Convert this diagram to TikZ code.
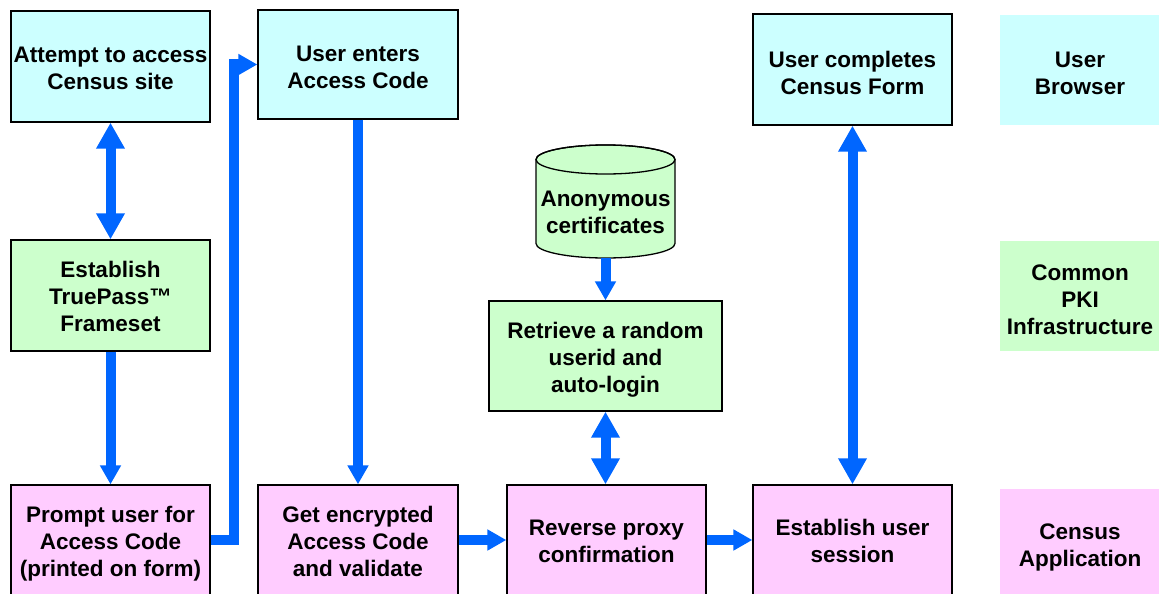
\documentclass[tikz,border=0pt]{standalone}
\usepackage{fontspec}
\setmainfont{Liberation Sans}
\usetikzlibrary{arrows.meta}
\definecolor{bcyan}{HTML}{CCFFFF}
\definecolor{bgreen}{HTML}{CCFFCC}
\definecolor{bpink}{HTML}{FFCCFF}
\definecolor{arrowblue}{HTML}{0066FF}
\newcommand\tdownA{\rule{0pt}{18.4pt}}
\newcommand\tdownB{\rule{0pt}{20.4pt}}
\newcommand\tdownC{\rule{0pt}{22.4pt}}
\begin{document}
\begin{tikzpicture}[x=1pt,y=-1pt,
  txt/.style={inner sep=0pt, align=center, text depth=0pt, font=\fontsize{22.5}{27}\selectfont\bfseries},
  box/.style={txt, draw=black, line width=1.3pt},
  cbox/.style={box, fill=bcyan, minimum width=199pt, minimum height=110pt},
  gbox/.style={box, fill=bgreen},
  pbox/.style={box, fill=bpink, minimum width=199pt, minimum height=112pt},
  lgd/.style={txt, minimum width=160pt, minimum height=110pt},
  sarrow/.style={draw=arrowblue, line width=10pt, -{Triangle[width=20pt,length=19pt]}},
  darrow/.style={draw=arrowblue, line width=10pt, {Triangle[width=27pt,length=26pt]}-{Triangle[width=27pt,length=26pt]}}
]
\useasboundingbox (0,0) rectangle (1159,594);
\clip (0,0) rectangle (1159,594);
\fill[white] (0,0) rectangle (1159,594);

% top row
\node[cbox, minimum height=111pt] (att) at (110.5,66.5) {\tdownA Attempt to access\\Census site};
\node[cbox, minimum width=200pt, minimum height=109pt] (ent) at (358,64.5) {\tdownB User enters\\Access Code};
\node[cbox, minimum height=111pt] (cmp) at (852.5,69.5) {\tdownC User completes\\Census Form};

% middle row
\node[gbox, minimum width=199pt, minimum height=111pt] (est) at (110.5,295.5) {\tdownA Establish\\TruePass™\\Frameset};
\node[gbox, minimum width=233pt, minimum height=110pt] (ret) at (605.5,356) {\tdownA Retrieve a random\\userid and\\auto-login};

% cylinder
\path[fill=bgreen, draw=black, line width=1.3pt]
  (536,159.5) -- (536,243.5)
  arc[start angle=180, end angle=360, x radius=69.5pt, y radius=14.5pt]
  -- (675,159.5)
  arc[start angle=0, end angle=180, x radius=69.5pt, y radius=14.5pt] -- cycle;
\draw[line width=1.3pt] (605.5,159.5) ellipse[x radius=69.5pt, y radius=14.5pt];
\node[txt] (cyl) at (605.5,210.5) {\tdownA Anonymous\\certificates};
\coordinate (cylbot) at (605.5,258);

% bottom row
\node[pbox] (prm) at (110.5,541) {Prompt user for\\Access Code\\(printed on form)};
\node[pbox, minimum width=200pt] (get) at (358,541) {Get encrypted\\Access Code\\and validate};
\node[pbox] (rev) at (606.5,541) {Reverse proxy\\confirmation};
\node[pbox] (ses) at (852.5,541) {Establish user\\session};

% legend
\node[lgd, fill=bcyan] (lub) at (1080,70) {\tdownC User\\Browser};
\node[lgd, fill=bgreen] (lpki) at (1080,296) {\tdownC Common\\PKI\\Infrastructure};
\node[lgd, fill=bpink] (lca) at (1080,544) {\tdownA Census\\Application};

% connectors
\draw[darrow] (att.south) -- (est.north);
\draw[sarrow] (est.south) -- (prm.north);
\draw[sarrow] (prm.east |- 0,540) -- (234,540) |- (ent.west);
\draw[sarrow] (ent.south) -- (get.north);
\draw[sarrow] (get.east |- 0,540) -- (rev.west |- 0,540);
\draw[sarrow] (rev.east |- 0,540) -- (ses.west |- 0,540);
\draw[sarrow] (cylbot) -- (cylbot |- ret.north);
\draw[darrow] (ret.south) -- (ret.south |- rev.north);
\draw[darrow] (ses.north) -- (cmp.south);
\end{tikzpicture}
\end{document}
